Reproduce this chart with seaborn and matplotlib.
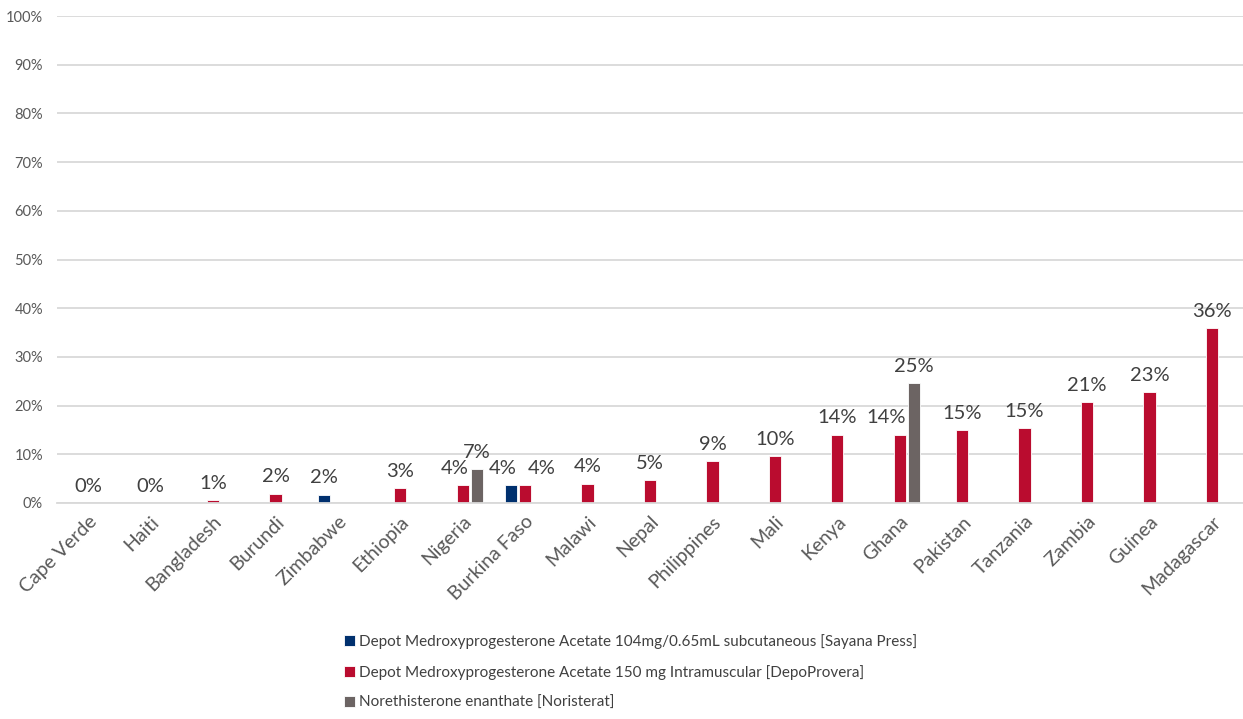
import numpy as np
import pandas as pd
import matplotlib
matplotlib.use("Agg")
import matplotlib.pyplot as plt
import seaborn as sns
from matplotlib.ticker import MultipleLocator, FuncFormatter

countries = ["Cape Verde", "Haiti", "Bangladesh", "Burundi", "Zimbabwe", "Ethiopia",
             "Nigeria", "Burkina Faso", "Malawi", "Nepal", "Philippines", "Mali",
             "Kenya", "Ghana", "Pakistan", "Tanzania", "Zambia", "Guinea", "Madagascar"]
series = ["Depot Medroxyprogesterone Acetate 104mg/0.65mL subcutaneous [Sayana Press]",
          "Depot Medroxyprogesterone Acetate 150 mg Intramuscular [DepoProvera]",
          "Norethisterone enanthate [Noristerat]"]
sayana = [np.nan, np.nan, np.nan, np.nan, 1.7, np.nan, np.nan, 3.6, np.nan, np.nan,
          np.nan, np.nan, np.nan, np.nan, np.nan, np.nan, np.nan, np.nan, np.nan]
depo = [0.0, 0.0, 0.6, 1.9, np.nan, 3.1, 3.6, 3.6, 4.0, 4.7,
        8.6, 9.6, 14.0, 14.0, 15.0, 15.4, 20.7, 22.8, 35.9]
noristerat = [np.nan, np.nan, np.nan, np.nan, np.nan, np.nan, 7.0, np.nan, np.nan, np.nan,
              np.nan, np.nan, np.nan, 24.6, np.nan, np.nan, np.nan, np.nan, np.nan]
colors = ["#00306E", "#BA0C2F", "#6C6463"]

rows = []
for s, vals in zip(series, [sayana, depo, noristerat]):
    for c, v in zip(countries, vals):
        rows.append({"country": c, "series": s, "value": v})
df = pd.DataFrame(rows)

sns.set_theme(style="white")
plt.rcParams['font.family'] = ['Lato', 'DejaVu Sans']

fig = plt.figure(figsize=(12.43, 7.19), dpi=100)
ax = fig.add_axes([57/1243, 1 - 503/719, 1 - 57/1243, (503 - 16)/719])

sns.barplot(data=df, x="country", y="value", hue="series", order=countries,
            hue_order=series, palette=colors, width=0.675, gap=0.12, saturation=1,
            dodge=True, ax=ax, legend=True, edgecolor="white", linewidth=0.6,
            err_kws={"linewidth": 0})

ax.set_ylim(0, 100)
ax.set_xlim(-0.5, len(countries) - 0.5)
ax.yaxis.set_major_locator(MultipleLocator(10))
ax.yaxis.set_major_formatter(FuncFormatter(lambda v, p: f"{v:.0f}%"))
ax.grid(axis="y", color="#D9D9D9", linewidth=1.3)
ax.set_axisbelow(True)
for sp in ["top", "right", "left"]:
    ax.spines[sp].set_visible(False)
ax.spines["bottom"].set_color("#D9D9D9")
ax.spines["bottom"].set_linewidth(1.3)
ax.set_xlabel("")
ax.set_ylabel("")
ax.tick_params(axis="y", labelsize=10.5, labelcolor="#595959", length=0, pad=10)
ax.tick_params(axis="x", labelsize=14, labelcolor="#595959", length=0, pad=7)
for lbl in ax.get_xticklabels():
    lbl.set_rotation(45)
    lbl.set_ha("right")
    lbl.set_rotation_mode("anchor")

# data labels
nudges = {("Nigeria", 1): -6, ("Burkina Faso", 0): -6, ("Burkina Faso", 1): 12,
          ("Ghana", 1): -10}
for si, (s, vals) in enumerate(zip(series, [sayana, depo, noristerat])):
    cont = ax.containers[si]
    present = [(c, v) for c, v in zip(countries, vals) if not np.isnan(v)]
    for patch, (c, v) in zip(cont.patches, present):
        xc = patch.get_x() + patch.get_width() / 2
        dx = nudges.get((c, si), 0)
        ax.annotate(f"{v:.0f}%", (xc, v), xytext=(dx, 6), textcoords="offset points",
                    ha="center", va="bottom", fontsize=14.5, color="#404040")

handles, labels = ax.get_legend_handles_labels()
ax.get_legend().remove()
fig.legend(handles, labels, loc="upper left", bbox_to_anchor=(338/1243, 1 - 628/719),
           frameon=False, fontsize=11, labelcolor="#404040", handlelength=0.7,
           handleheight=0.7, handletextpad=0.3, labelspacing=1.05, ncol=1,
           borderaxespad=0)

fig.savefig("out.png", dpi=100)
